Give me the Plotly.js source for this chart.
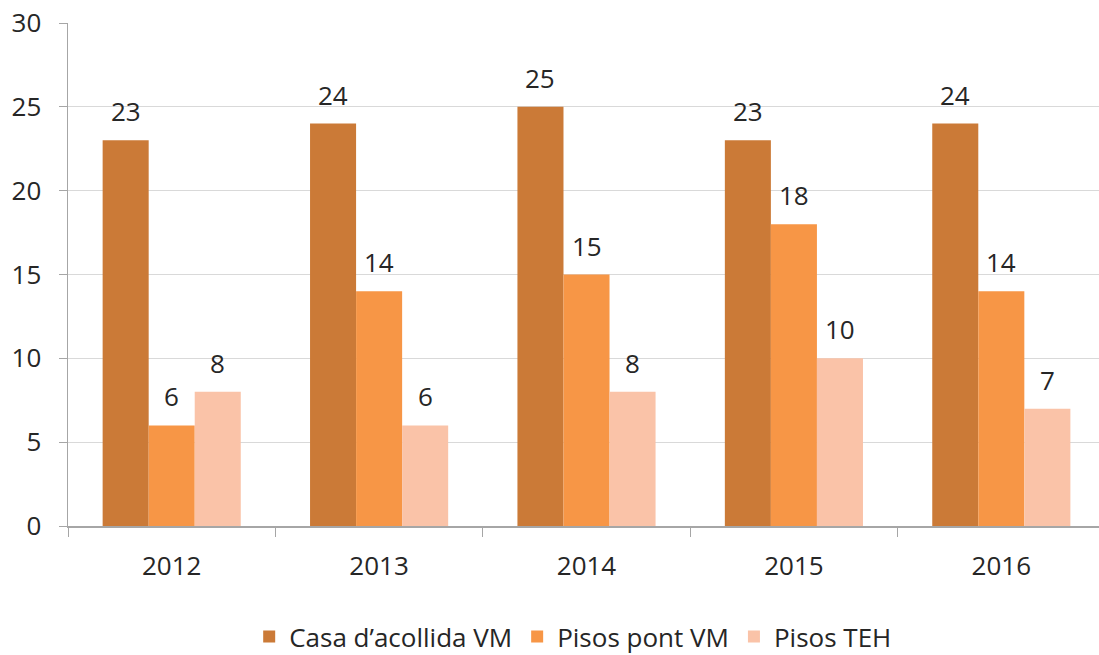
<!DOCTYPE html>
<html>
<head>
<meta charset="utf-8">
<script src="https://cdn.plot.ly/plotly-3.0.1.min.js"></script>
<style>
  html, body { margin: 0; padding: 0; background: #fff; overflow: hidden; }
  #chart { width: 1099px; height: 655px; }
</style>
</head>
<body>
<div id="chart"></div>
<script>
// data
const years = ['2012', '2013', '2014', '2015', '2016'];
const casaAcollida = [23, 24, 25, 23, 24];
const pisosPont = [6, 14, 15, 18, 14];
const pisosTeh = [8, 6, 8, 10, 7];
const seriesNames = ['Casa d\u2019acollida VM', 'Pisos pont VM', 'Pisos TEH'];
const yTicks = [0, 5, 10, 15, 20, 25, 30];

const colors = ['#CB7A37', '#F79646', '#FAC3A8'];
const textColor = '#262626';
const font = 'Open Sans, sans-serif';
const fontSize = 26;
const bargap = 0.334;

const seriesValues = [casaAcollida, pisosPont, pisosTeh];

const data = seriesValues.map((vals, i) => ({
    type: 'bar',
    x: years,
    y: vals,
    name: seriesNames[i],
    marker: { color: colors[i] },
    hoverinfo: 'skip'
}));

// value labels floating above each bar
const annotations = [];
seriesValues.forEach((vals, i) => {
    vals.forEach((v, c) => {
        annotations.push({
            x: c + (i - 1) * (1 - bargap) / 3,
            y: v,
            xref: 'x',
            yref: 'y',
            text: String(v),
            showarrow: false,
            yanchor: 'middle',
            yshift: 29,
            font: { family: font, size: fontSize, color: textColor }
        });
    });
});

const layout = {
    width: 1099,
    height: 655,
    margin: { l: 68, r: 0, t: 23, b: 129 },
    paper_bgcolor: '#fff',
    plot_bgcolor: '#fff',
    barmode: 'group',
    bargap: bargap,
    bargroupgap: 0,
    font: { family: font, size: fontSize, color: textColor },
    xaxis: {
        type: 'category',
        range: [-0.5, 4.471],
        tickson: 'boundaries',
        ticks: 'outside',
        ticklen: 9,
        tickcolor: '#A6A6A6',
        showline: true,
        linecolor: '#A6A6A6',
        linewidth: 1.5,
        showgrid: false,
        zeroline: false,
        ticklabelstandoff: 16,
        tickfont: { family: font, size: fontSize, color: textColor }
    },
    yaxis: {
        range: [0, 30],
        tickvals: yTicks,
        ticks: 'outside',
        ticklen: 8,
        tickcolor: '#A6A6A6',
        showline: true,
        linecolor: '#A6A6A6',
        linewidth: 1.5,
        gridcolor: '#D9D9D9',
        gridwidth: 1,
        zeroline: false,
        ticklabelstandoff: 12,
        tickfont: { family: font, size: fontSize, color: textColor }
    },
    legend: {
        orientation: 'h',
        xref: 'paper',
        x: 0.49,
        xanchor: 'center',
        yref: 'container',
        y: 0.028,
        yanchor: 'middle',
        font: { family: font, size: fontSize, color: textColor },
        itemclick: false,
        traceorder: 'normal'
    },
    showlegend: true,
    annotations: annotations
};

Plotly.newPlot('chart', data, layout, { displayModeBar: false, staticPlot: true });
</script>
</body>
</html>
